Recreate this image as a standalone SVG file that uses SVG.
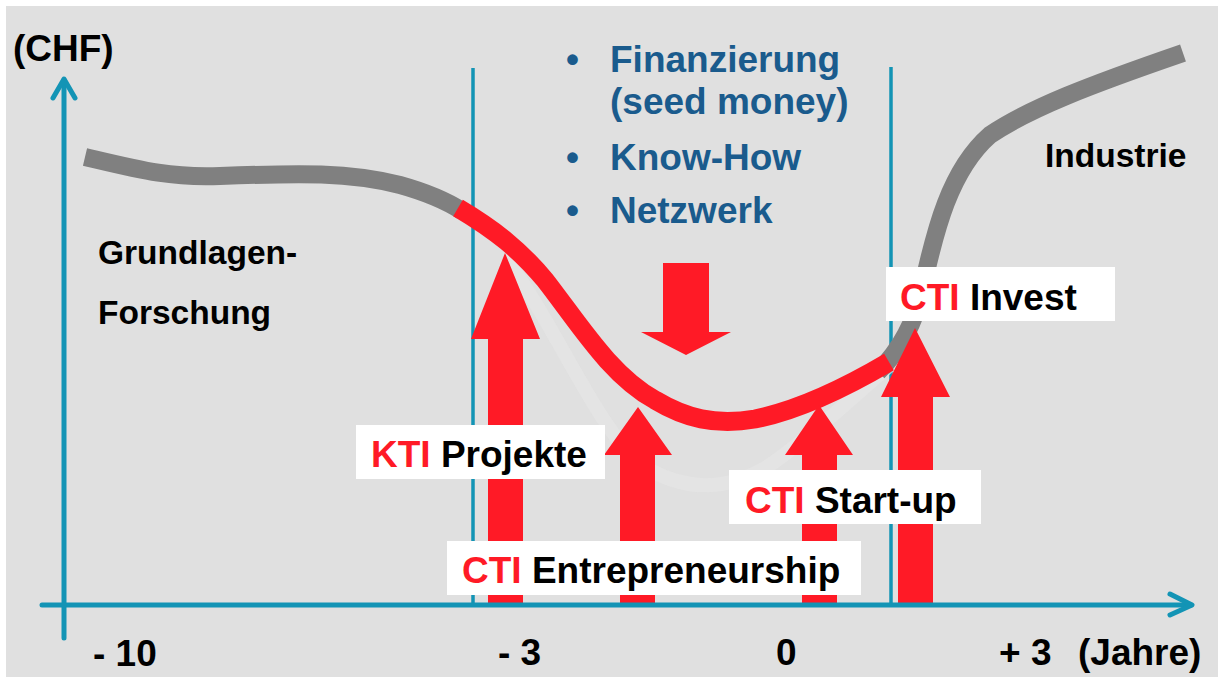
<svg xmlns="http://www.w3.org/2000/svg" width="1227" height="679" viewBox="0 0 1227 679">
<style>
.t{font-family:"Liberation Sans",Arial,sans-serif;font-weight:bold;font-size:37px;fill:#000}
.s{font-size:33.5px}
.b{fill:#1a5b8d}
.r{fill:#ff1a26}
.box{fill:#fff}
.ax{stroke:#1394b5;stroke-width:5;fill:none;stroke-linecap:round;stroke-linejoin:round}
.guide{stroke:#1394b5;stroke-width:3.5;fill:none}
.gray{stroke:#808080;stroke-width:18;fill:none}
.red{stroke:#ff1a26;stroke-width:19;fill:none}
.arr{fill:#ff1a26}
</style>
<rect x="0" y="0" width="1227" height="679" fill="#fff"/>
<rect id="background" x="6" y="6" width="1212" height="671" fill="#e0e0e0"/>
<g id="guides">
<line class="guide" x1="473" y1="68" x2="473" y2="605"/>
<line class="guide" x1="891" y1="67" x2="891" y2="605"/>
</g>
<g id="curve">
<path d="M505,258 C560,330 600,440 650,470 C690,492 730,490 770,465 C820,430 860,390 889,366" fill="none" stroke="#e6e6e6" stroke-width="14" opacity="0.7"/>
<path class="gray" d="M85,157 C140,170 170,178 220,176 C300,173 350,172 400,185 C425,192 445,200 462,211"/>
<path class="gray" d="M878,372 C900,350 915,322 922,290 C935,230 950,170 990,135 C1030,108 1090,85 1183,53"/>
<path class="red" d="M458,208 C495,230 520,250 545,280 C580,325 610,375 655,400 C685,418 715,426 755,419 C800,410 850,385 889,362"/>
</g>
<g id="connectors">
<polygon id="arrow-kti" class="arr" points="488,605 488,339 471,339 505,253 540,339 523,339 523,605"/>
<polygon id="arrow-entre" class="arr" points="620,605 620,455 604,455 638,407 672,455 655,455 655,605"/>
<polygon id="arrow-startup" class="arr" points="802,605 802,455 785,455 819,405 853,455 837,455 837,605"/>
<polygon id="arrow-invest" class="arr" points="898,605 898,397 881,397 915,328 950,397 933,397 933,605"/>
<polygon id="arrow-down" class="arr" points="663,263 709,263 709,332 731,332 686,355 641,332 663,332"/>
<g id="axes">
<line class="ax" x1="64" y1="638" x2="64" y2="80"/>
<polyline class="ax" points="53,98 64,79 75,98"/>
<line class="ax" x1="42" y1="605" x2="1191" y2="605"/>
<polyline class="ax" points="1170,594 1192,605 1170,615"/>
</g>
</g>
<g id="axis-labels">
<text class="t" x="13" y="61">(CHF)</text>
<text class="t" x="93" y="666">- 10</text>
<text class="t" x="498" y="665">- 3</text>
<text class="t" x="776" y="665">0</text>
<text class="t" x="999" y="665">+ 3</text>
<text class="t" x="1078" y="665">(Jahre)</text>
</g>
<g id="node-grundlagen">
<text class="t s" x="98" y="264">Grundlagen-</text>
<text class="t s" x="98" y="324">Forschung</text>
</g>
<g id="node-industrie">
<text class="t s" x="1045" y="167">Industrie</text>
</g>
<g id="node-support">
<text class="t b" x="566" y="72">•</text>
<text class="t b" x="610" y="72">Finanzierung</text>
<text class="t b" x="610" y="114">(seed money)</text>
<text class="t b" x="566" y="170">•</text>
<text class="t b" x="610" y="170">Know-How</text>
<text class="t b" x="566" y="223">•</text>
<text class="t b" x="610" y="223">Netzwerk</text>
</g>
<g id="node-kti-projekte">
<rect class="box" x="356" y="425" width="249" height="54"/>
<text class="t" x="371" y="467"><tspan class="r">KTI</tspan> Projekte</text>
</g>
<g id="node-cti-entrepreneurship">
<rect class="box" x="447" y="541" width="414" height="54"/>
<text class="t" x="462" y="583"><tspan class="r">CTI</tspan> Entrepreneurship</text>
</g>
<g id="node-cti-startup">
<rect class="box" x="729" y="470" width="252" height="54"/>
<text class="t" x="745" y="513"><tspan class="r">CTI</tspan> Start-up</text>
</g>
<g id="node-cti-invest">
<rect class="box" x="886" y="267" width="229" height="54"/>
<text class="t" x="900" y="310"><tspan class="r">CTI</tspan> Invest</text>
</g>
</svg>
